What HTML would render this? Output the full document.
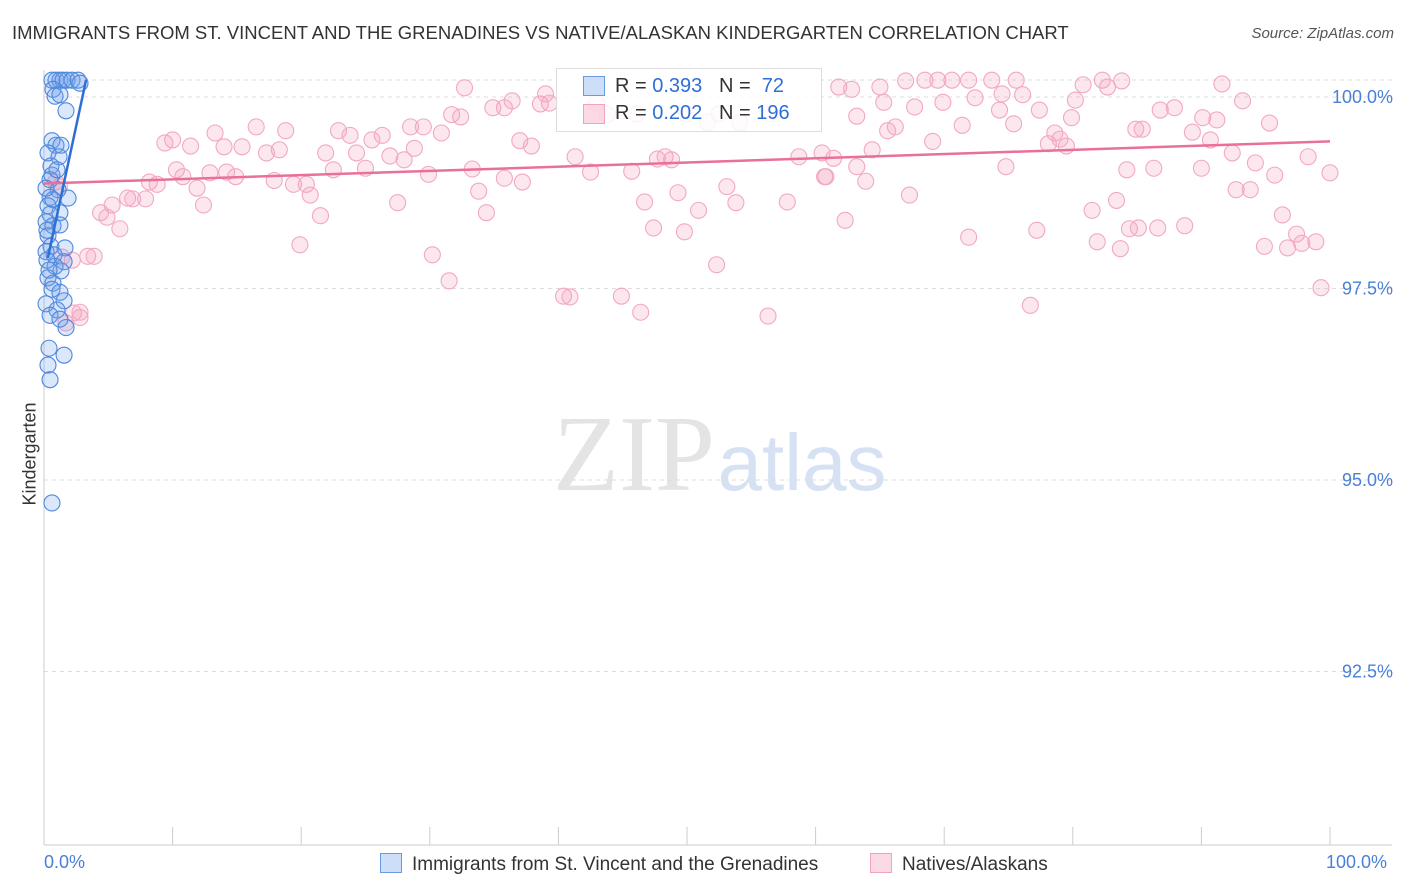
<!DOCTYPE html>
<html><head><meta charset="utf-8"><style>
body{margin:0;background:#fff;font-family:"Liberation Sans",sans-serif;}
#wrap{position:relative;width:1406px;height:892px;overflow:hidden;}
.t{position:absolute;white-space:nowrap;}
</style></head><body>
<div id="wrap">
<div class="t" style="left:12px;top:22px;font-size:18.5px;color:#333;">IMMIGRANTS FROM ST. VINCENT AND THE GRENADINES VS NATIVE/ALASKAN KINDERGARTEN CORRELATION CHART</div>
<div class="t" style="right:12px;top:25px;font-size:15px;color:#555;font-style:italic;">Source: ZipAtlas.com</div>
<svg id="svg" width="1406" height="892" style="position:absolute;left:0;top:0"></svg>
</div>
<script>
const pinkX=[9.4,10.0,11.4,13.3,14.0,15.4,16.5,17.3,18.3,18.8,21.9,22.9,23.8,24.3,25.5,26.3,26.9,28.0,28.5,28.8,29.5,30.9,31.7,32.4,32.7,33.3,34.9,35.8,36.4,37.0,37.9,38.6,39.0,39.3,41.3,42.5,43.0,43.8,45.7,46.1,47.7,48.3,48.8,49.9,51.6,52.5,54.1,56.5,58.7,60.5,60.8,61.4,61.8,62.8,63.2,63.9,64.4,65.0,65.3,65.6,66.2,67.0,67.7,68.5,69.1,69.5,69.9,70.6,71.4,71.9,72.4,73.7,74.5,75.4,75.6,76.1,77.4,78.1,78.6,79.0,79.5,79.9,80.2,80.8,82.3,82.7,83.8,84.9,85.4,87.9,89.3,90.1,90.7,91.2,91.6,92.4,93.2,94.2,95.3,95.7,98.3,100,
4.4,4.9,5.3,5.9,6.5,6.9,7.9,8.2,8.8,10.3,10.8,11.9,12.4,12.9,14.2,14.9,17.9,19.4,20.4,20.7,21.5,19.9,22.5,25.0,27.5,29.9,30.2,31.5,33.8,34.4,35.8,37.2,40.4,40.9,44.9,46.4,46.7,47.4,49.3,49.8,50.9,52.3,53.1,53.8,56.3,57.8,60.7,62.3,67.3,71.9,76.7,77.2,81.5,81.9,83.4,83.7,84.4,85.1,86.6,88.7,92.7,93.8,94.9,96.3,96.7,97.4,97.8,98.9,99.3,84.2,86.3,90.0,74.8,63.2,1.4,2.2,3.4,3.9,2.8,2.3,2.8,1.7,0.9,1.2,74.3,86.8];
const pinkY=[99.40,99.44,99.36,99.53,99.35,99.35,99.61,99.27,99.31,99.56,99.27,99.56,99.50,99.27,99.44,99.50,99.23,99.18,99.61,99.33,99.61,99.53,99.77,99.74,100.12,99.06,99.86,99.86,99.95,99.43,99.36,99.91,100.04,99.92,99.22,99.02,99.92,99.77,99.03,99.78,99.19,99.22,99.18,99.78,99.67,99.78,99.67,99.78,99.22,99.27,98.96,99.20,100.13,100.10,99.75,98.90,99.31,100.13,99.93,99.56,99.61,100.21,99.87,100.22,99.42,100.22,99.93,100.22,99.63,100.22,99.99,100.22,100.04,99.65,100.22,100.03,99.83,99.39,99.53,99.45,99.36,99.73,99.96,100.16,100.22,100.13,100.21,99.58,99.58,99.86,99.54,99.73,99.44,99.70,100.17,99.27,99.95,99.14,99.66,98.98,99.22,99.01,
98.49,98.43,98.59,98.28,98.68,98.67,98.67,98.89,98.86,99.05,98.96,98.81,98.59,99.01,99.02,98.96,98.91,98.86,98.86,98.72,98.45,98.07,99.05,99.07,98.62,98.99,97.94,97.60,98.77,98.49,98.94,98.89,97.40,97.39,97.40,97.19,98.63,98.29,98.75,98.24,98.52,97.81,98.83,98.62,97.14,98.63,98.96,98.39,98.72,98.17,97.28,98.26,98.52,98.11,98.65,98.02,98.28,98.29,98.29,98.32,98.79,98.79,98.05,98.46,98.03,98.21,98.09,98.11,97.51,99.05,99.07,99.07,99.09,99.09,97.91,97.87,97.92,97.92,97.19,97.18,97.12,97.05,98.89,98.83,99.83,99.83];
const blueX=[0.62,0.93,1.24,1.48,1.79,2.18,2.64,2.80,0.70,0.86,1.71,0.62,0.93,1.32,0.31,1.17,0.54,0.62,0.47,1.09,0.47,0.70,1.87,0.31,1.24,0.47,0.16,0.70,1.24,0.31,0.54,1.63,0.16,0.78,1.56,0.86,1.32,0.31,0.70,0.62,1.24,1.56,0.16,1.01,0.47,1.71,1.24,0.39,1.56,0.31,0.47,0.62,0.23,0.23,1.01,0.16,1.24,0.39];
const blueY=[100.22,100.22,100.22,100.22,100.22,100.22,100.22,100.18,100.10,100.01,99.82,99.43,99.37,99.37,99.27,99.22,99.10,98.98,98.92,98.79,98.69,98.66,98.68,98.58,98.49,98.47,98.37,98.32,98.33,98.19,98.05,98.03,97.98,97.94,97.85,97.79,97.73,97.64,97.57,97.49,97.45,97.34,97.30,97.22,97.15,96.99,97.10,96.72,96.63,96.50,96.31,94.70,98.26,97.87,99.05,98.81,100.03,97.74];
const pinkTrend=[98.87,99.42];
const blueTrendX=[0.3,3.27];
const blueTrendY=[97.9,100.22];
const yTicks=[100,97.5,95,92.5];
const yTickLabels=["100.0%","97.5%","95.0%","92.5%"];

const X0=44,X1=1330,Y100=97,PPU=76.6;
const sx=v=>X0+(X1-X0)*v/100;
const sy=v=>Y100+(100-v)*PPU;
const NS="http://www.w3.org/2000/svg";
const svg=document.getElementById('svg');
function mk(tag,attrs,parent){const e=document.createElementNS(NS,tag);for(const k in attrs)e.setAttribute(k,attrs[k]);(parent||svg).appendChild(e);return e;}

let wm=mk('text',{x:634,y:490,'font-size':108,'font-family':'Liberation Serif, serif',fill:'#e4e4e4','text-anchor':'middle'});wm.textContent='ZIP';


let wm2=mk('text',{x:802,y:490,'font-size':80,'font-family':'Liberation Sans, sans-serif',fill:'#d6e2f3','text-anchor':'middle'});wm2.textContent='atlas';



mk('line',{x1:X0,x2:1392,y1:80,y2:80,stroke:'#ddd','stroke-dasharray':'4,4'});
yTicks.forEach((t,i)=>{
  const g=mk('line',{x1:X0,x2:1392,y1:sy(t),y2:sy(t),stroke:'#ddd','stroke-dasharray':'4,4'});
  
  
  const l=mk('text',{x:1393,y:sy(t)+6,'font-size':18,fill:'#4a7fd8','text-anchor':'end'});
  l.textContent=yTickLabels[i];
  
  
});
mk('line',{x1:X0,x2:X0,y1:70,y2:845,stroke:'#ccc'});
mk('line',{x1:X0,x2:1392,y1:845,y2:845,stroke:'#ccc'});
for(let i=0;i<=10;i++){const x=sx(i*10);mk('line',{x1:x,x2:x,y1:827,y2:845,stroke:'#ccc'});}

function pts(xs,ys,fill,stroke,name){
  xs.forEach((v,i)=>{
    const c=mk('circle',{cx:sx(v),cy:sy(ys[i]),r:8,fill:fill,stroke:stroke,'stroke-width':1.1});
    
    
  });
}
pts(pinkX,pinkY,'rgba(244,160,190,0.25)','#f2a8c2','native-point');
pts(blueX,blueY,'rgba(110,160,235,0.25)','#4f88dc','immigrant-point');
let pt=mk('line',{x1:sx(0),y1:sy(pinkTrend[0]),x2:sx(100),y2:sy(pinkTrend[1]),stroke:'#e9709a','stroke-width':2.5});


let bt=mk('line',{x1:sx(blueTrendX[0]),y1:sy(blueTrendY[0]),x2:sx(blueTrendX[1]),y2:sy(blueTrendY[1]),stroke:'#2e6fd6','stroke-width':2.5});


</script>
<div class="t" style="left:-20px;top:445px;font-size:18px;color:#333;transform:rotate(-90deg);width:100px;text-align:center;">Kindergarten</div>
<div class="t" style="left:44px;top:852px;font-size:18px;color:#4a7fd8;">0.0%</div>
<div class="t" style="left:1326px;top:852px;font-size:18px;color:#4a7fd8;">100.0%</div>
<div style="position:absolute;left:556px;top:68px;width:264px;height:62px;border:1px solid #ddd;background:rgba(255,255,255,0.85);font-size:20px;color:#333;">
 <div style="position:absolute;left:26px;top:7px;width:20px;height:18px;background:rgba(110,160,235,0.35);border:1px solid #6a9be0;"></div>
 <div class="t" style="left:58px;top:6px;">R = <span style="color:#2e6fd6">0.393</span>&nbsp;&nbsp;&nbsp;N = &nbsp;<span style="color:#2e6fd6">72</span></div>
 <div style="position:absolute;left:26px;top:35px;width:20px;height:18px;background:rgba(244,160,190,0.4);border:1px solid #f0a2be;"></div>
 <div class="t" style="left:58px;top:33px;">R = <span style="color:#2e6fd6">0.202</span>&nbsp;&nbsp;&nbsp;N = <span style="color:#2e6fd6">196</span></div>
</div>
<div style="position:absolute;left:380px;top:853px;font-size:19px;color:#333;">
 <div style="position:absolute;left:0;top:0;white-space:nowrap;"><span style="display:inline-block;width:20px;height:18px;background:rgba(110,160,235,0.35);border:1px solid #6a9be0;vertical-align:-3px;margin-right:10px;"></span>Immigrants from St. Vincent and the Grenadines</div>
 <div style="position:absolute;left:490px;top:0;white-space:nowrap;"><span style="display:inline-block;width:20px;height:18px;background:rgba(244,160,190,0.4);border:1px solid #f0a2be;vertical-align:-3px;margin-right:10px;"></span>Natives/Alaskans</div>
</div>
</body></html>
